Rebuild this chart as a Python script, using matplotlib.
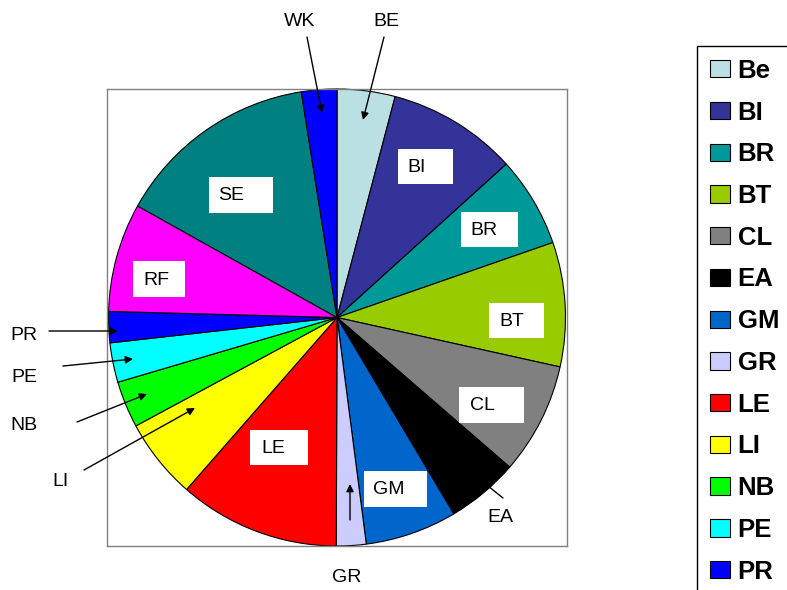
import matplotlib
matplotlib.use('Agg')
import matplotlib.pyplot as plt
from matplotlib.patches import Rectangle

plt.rcParams['font.family'] = ['Liberation Sans', 'DejaVu Sans']

# slice data, clockwise from 12 o'clock
names = ['BE', 'BI', 'BR', 'BT', 'CL', 'EA', 'GM', 'GR', 'LE', 'LI', 'NB', 'PE', 'PR', 'RF', 'SE', 'WK']
values = [4.1, 9.2, 6.4, 8.8, 7.9, 5.1, 6.5, 2.1, 11.4, 5.7, 3.3, 2.8, 2.2, 7.7, 14.4, 2.5]
colors = ['#BBE0E3', '#333399', '#009999', '#99CC00', '#808080', '#000000', '#0066CC', '#CCCCFF',
          '#FF0000', '#FFFF00', '#00FF00', '#00FFFF', '#0000FF', '#FF00FF', '#008080', '#0000FF']
legend_names = ['Be', 'BI', 'BR', 'BT', 'CL', 'EA', 'GM', 'GR', 'LE', 'LI', 'NB', 'PE', 'PR']

W, H = 787, 590


def fp(px, py):
    # pixel position -> figure fraction
    return px / W, 1 - py / H


fig = plt.figure(figsize=(W / 100, H / 100), dpi=100)
ax = fig.add_axes([107 / W, (H - 546) / H, 460 / W, 457 / H])

wedges, _ = ax.pie(values, colors=colors, startangle=90, counterclock=False,
                   wedgeprops=dict(edgecolor='black', linewidth=0.8))
ax.set_aspect('auto')
ax.set_xlim(-1.0066, 1.0066)
ax.set_ylim(-1.0, 1.0)
ax.set_frame_on(True)
for s in ax.spines.values():
    s.set_edgecolor('#808080')
    s.set_linewidth(1.0)
ax.set_xticks([])
ax.set_yticks([])

# inside labels on white boxes: name, box (x0, y0, x1, y1) px, text x px
inside = [('BI', (398, 149, 453, 184), 407),
          ('BR', (461, 212, 518, 247), 470),
          ('BT', (489, 303, 544, 338), 499),
          ('CL', (459, 387, 524, 423), 470),
          ('GM', (364, 471, 427, 507), 373),
          ('LE', (250, 430, 308, 465), 261),
          ('RF', (133, 261, 185, 297), 143),
          ('SE', (209, 177, 273, 213), 218)]
for name, (x0, y0, x1, y1), tx in inside:
    fig.add_artist(Rectangle(fp(x0, y1), (x1 - x0) / W, (y1 - y0) / H,
                             transform=fig.transFigure, facecolor='white', edgecolor='none'))
    fig.text(*fp(tx, (y0 + y1) / 2 + 1), name, fontsize=14, ha='left', va='center')

# outside labels with leader arrows: name, text centre, arrow tail, arrow head
outside = [('WK', (300, 22), (307, 37), (322, 113)),
           ('BE', (386, 22), (384, 37), (363, 120)),
           ('PR', (24, 335), (49, 331), (118, 331)),
           ('PE', (24, 377), (63, 366), (133, 359)),
           ('NB', (24, 426), (77, 422), (147, 394)),
           ('LI', (60, 482), (84, 470), (195, 408)),
           ('EA', (500, 517), (503, 498), (478, 478)),
           ('GR', (347, 577), (350, 520), (350, 484))]
for name, tpos, tail, head in outside:
    fig.text(*fp(*tpos), name, fontsize=14, ha='center', va='center')
    ax.annotate('', xy=fp(*head), xycoords='figure fraction',
                xytext=fp(*tail), textcoords='figure fraction',
                arrowprops=dict(arrowstyle='-|>', color='black', lw=1,
                                shrinkA=0, shrinkB=0, mutation_scale=11))

leg = fig.legend(wedges[:13], legend_names, loc='upper left',
                 bbox_to_anchor=fp(697, 46), borderaxespad=0,
                 prop=dict(weight='bold', size=18.5), frameon=True, fancybox=False,
                 edgecolor='black', framealpha=1, labelspacing=0.69,
                 handlelength=0.78, handleheight=0.66, handletextpad=0.3,
                 borderpad=0.5)
leg.get_frame().set_linewidth(1.0)

fig.savefig('out.png', dpi=100)
